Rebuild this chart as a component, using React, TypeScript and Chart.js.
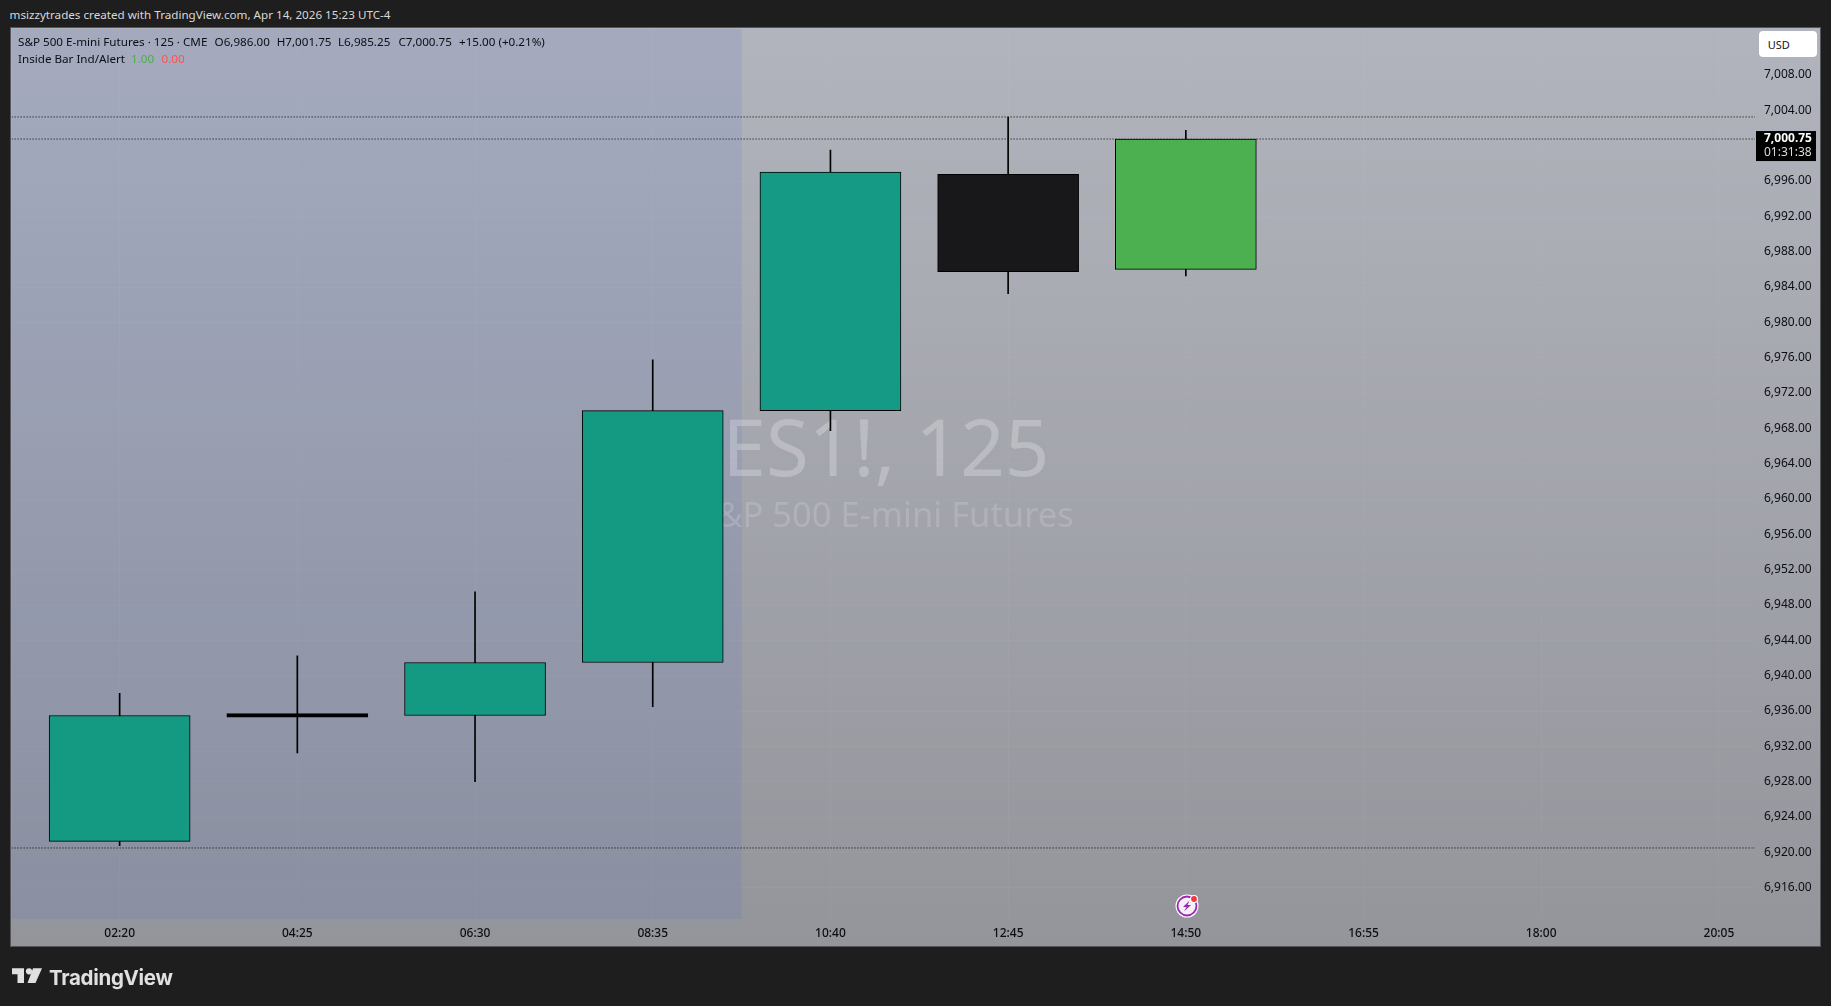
import React, { useEffect, useRef } from "react";
import { Chart, registerables } from "chart.js";

Chart.register(...registerables);

const timeLabels = ["02:20", "04:25", "06:30", "08:35", "10:40", "12:45", "14:50", "16:55", "18:00", "20:05"];
const priceTicks = [6916, 6920, 6924, 6928, 6932, 6936, 6940, 6944, 6948, 6952, 6956, 6960, 6964, 6968, 6972, 6976, 6980, 6984, 6988, 6992, 6996, 7000, 7004, 7008];
const opens = [6921.25, 6935.3, 6935.5, 6941.5, 6970, 6996.75, 6986];
const highs = [6938, 6942.25, 6949.5, 6975.75, 6999.5, 7003.25, 7001.75];
const lows = [6920.75, 6931.25, 6928, 6936.5, 6967.75, 6983.25, 6985.25];
const closes = [6935.5, 6935.7, 6941.5, 6970, 6997, 6985.75, 7000.75];
const bodyColors = ["#149a83", "#000000", "#149a83", "#149a83", "#159b85", "#18181a", "#4caf50"];
const dottedLevels = [7003.25, 7000.75, 6920.5];
const lastPrice = 7000.75;
const countdown = "01:31:38";

const X_MIN = -0.608;
const X_MAX = 9.203;
const Y_MIN = 6912.46;
const Y_MAX = 7013.207;
const SESSION_END_X = 3.5;

const FONT = '"Noto Sans", sans-serif';
const fmt = (v: number) => v.toLocaleString("en-US", { minimumFractionDigits: 2, maximumFractionDigits: 2 });

const backdrop = {
  id: "backdrop",
  beforeDatasetsDraw(chart: any) {
    const { ctx, chartArea: a, scales } = chart;
    ctx.save();
    const right = scales.x.getPixelForValue(SESSION_END_X);
    ctx.fillStyle = "rgba(45,85,210,0.10)";
    ctx.fillRect(a.left, a.top, right - a.left, a.bottom - a.top);
    const cx = 886;
    ctx.textAlign = "center";
    ctx.textBaseline = "alphabetic";
    ctx.fillStyle = "rgba(255,255,255,0.25)";
    ctx.font = `78px ${FONT}`;
    ctx.fillText("ES1!, 125", cx, 476);
    ctx.fillStyle = "rgba(255,255,255,0.16)";
    ctx.font = `34.5px ${FONT}`;
    ctx.fillText("S&P 500 E-mini Futures", cx, 527);
    ctx.restore();
  },
};

const priceTag = {
  id: "priceTag",
  afterDraw(chart: any) {
    const { ctx, scales } = chart;
    const y = scales.y.getPixelForValue(lastPrice);
    ctx.save();
    ctx.fillStyle = "#000000";
    ctx.fillRect(1756, y - 8, 60, 30);
    ctx.textAlign = "left";
    ctx.textBaseline = "middle";
    ctx.fillStyle = "#ffffff";
    ctx.font = `bold 12px ${FONT}`;
    ctx.fillText(fmt(lastPrice), 1764, y);
    ctx.fillStyle = "#dcdcdc";
    ctx.font = `12px ${FONT}`;
    ctx.fillText(countdown, 1764, y + 14);
    ctx.restore();
  },
};

const abs = (left: number, top: number, extra: React.CSSProperties = {}): React.CSSProperties => ({
  position: "absolute",
  left,
  top,
  lineHeight: "16px",
  whiteSpace: "nowrap",
  ...extra,
});

export default function App() {
  const ref = useRef<HTMLCanvasElement>(null);

  useEffect(() => {
    const idx = opens.map((_, i) => i);
    const chart = new Chart(ref.current!, {
      type: "bar",
      data: {
        datasets: [
          ...dottedLevels.map((level) => ({
            type: "line" as const,
            data: [
              { x: X_MIN, y: level },
              { x: X_MAX, y: level },
            ],
            borderColor: "#000000",
            borderWidth: 1,
            borderDash: [1, 2],
            pointRadius: 0,
            order: 3,
          })),
          {
            type: "bar" as const,
            data: idx.map((i) => ({ x: i, y: [lows[i], highs[i]] })),
            backgroundColor: "#000000",
            borderWidth: 0,
            grouped: false,
            barPercentage: 1,
            categoryPercentage: 1,
            maxBarThickness: 1,
            order: 2,
          },
          {
            type: "bar" as const,
            data: idx.map((i) => ({ x: i, y: [opens[i], closes[i]] })),
            backgroundColor: bodyColors,
            borderColor: "#000000",
            borderWidth: 1,
            borderSkipped: false,
            grouped: false,
            barPercentage: 1,
            categoryPercentage: 1,
            maxBarThickness: 141,
            order: 1,
          },
        ],
      } as any,
      options: {
        responsive: false,
        animation: false,
        devicePixelRatio: 1,
        layout: { padding: { left: 11.6, top: 29, right: 11, bottom: 59 } },
        plugins: { legend: { display: false }, tooltip: { enabled: false } },
        scales: {
          x: {
            type: "linear",
            min: X_MIN,
            max: X_MAX,
            offset: false,
            afterBuildTicks: (axis: any) => {
              axis.ticks = timeLabels.map((_, i) => ({ value: i }));
            },
            afterFit: (s: any) => {
              s.height = 28;
            },
            grid: { color: "rgba(255,255,255,0.03)", drawTicks: false, offset: false },
            border: { display: false },
            ticks: {
              autoSkip: false,
              maxRotation: 0,
              padding: 7,
              color: "#0b0e14",
              font: { family: FONT, size: 12, weight: "500" },
              callback: (v: any) => timeLabels[v],
            },
          },
          y: {
            type: "linear",
            position: "right",
            min: Y_MIN,
            max: Y_MAX,
            afterBuildTicks: (axis: any) => {
              axis.ticks = priceTicks.map((value) => ({ value }));
            },
            afterFit: (s: any) => {
              s.width = 65;
            },
            grid: { color: "rgba(255,255,255,0.03)", drawTicks: false },
            border: { display: false },
            ticks: {
              autoSkip: false,
              padding: 9,
              color: "#0b0e14",
              font: { family: FONT, size: 12 },
              callback: (v: any) => fmt(Number(v)),
            },
          },
        },
      } as any,
      plugins: [backdrop, priceTag],
    });
    return () => chart.destroy();
  }, []);

  return (
    <div
      style={{
        position: "fixed",
        left: 0,
        top: 0,
        width: 1831,
        height: 1006,
        overflow: "hidden",
        background: "#1e1e1e",
        fontFamily: FONT,
        fontSize: 11.65,
      }}
    >
      <div style={abs(9.5, 7, { color: "#d8d8d8" })}>msizzytrades created with TradingView.com, Apr 14, 2026 15:23 UTC-4</div>
      <div
        style={{
          position: "absolute",
          left: 11,
          top: 28,
          width: 1809,
          height: 918,
          background: "linear-gradient(180deg,#b2b4bd 0%,#94959b 100%)",
          outline: "1px solid #55565a",
        }}
      />
      <canvas ref={ref} width={1831} height={1006} style={{ position: "absolute", left: 0, top: 0, display: "block" }} />
      <div style={{ color: "#0b0e14" }}>
        <div style={abs(18, 34)}>S&amp;P 500 E-mini Futures · 125 · CME</div>
        <div style={abs(214.6, 34)}>O6,986.00</div>
        <div style={abs(276.7, 34)}>H7,001.75</div>
        <div style={abs(338, 34)}>L6,985.25</div>
        <div style={abs(398.4, 34)}>C7,000.75</div>
        <div style={abs(459, 34)}>+15.00 (+0.21%)</div>
        <div style={abs(18, 51)}>Inside Bar Ind/Alert</div>
        <div style={abs(131, 51, { color: "#4caf50" })}>1.00</div>
        <div style={abs(161.5, 51, { color: "#ff5252" })}>0.00</div>
      </div>
      <div
        style={abs(1758.7, 31, {
          width: 58.6,
          height: 26.3,
          background: "#ffffff",
          borderRadius: 4,
          lineHeight: "27px",
          textIndent: 9,
          fontSize: 11,
          color: "#131722",
        })}
      >
        USD
      </div>
      <svg style={{ position: "absolute", left: 1172.5, top: 892 }} width={30} height={30} viewBox="0 0 30 30">
        <circle cx={14} cy={14} r={11.5} fill="#ffffff" />
        <circle cx={14} cy={14} r={9.5} fill="#f4f0f6" stroke="#9c27b0" strokeWidth={1.8} />
        <path d="M16.5 8.5 L10 15 H13.5 L11 19.5 L18 13 H14.5 Z" fill="#9c27b0" />
        <circle cx={21} cy={7} r={4} fill="#ffffff" />
        <circle cx={21} cy={7} r={2.9} fill="#f23645" />
      </svg>
      <svg style={{ position: "absolute", left: 12, top: 968 }} width={32} height={16} viewBox="0 0 32 16" fill="#e0e0e0">
        <path d="M0 0.3H12V15H5.5V6.3H0Z" />
        <circle cx={17} cy={3.3} r={3.1} />
        <path d="M21 0.3H30L23.5 15H15.5Z" />
      </svg>
      <div style={abs(49, 965, { color: "#e0e0e0", fontFamily: "Inter, sans-serif", fontWeight: 650, fontSize: 20.5, lineHeight: "26px", letterSpacing: "-0.3px" })}>
        TradingView
      </div>
    </div>
  );
}
